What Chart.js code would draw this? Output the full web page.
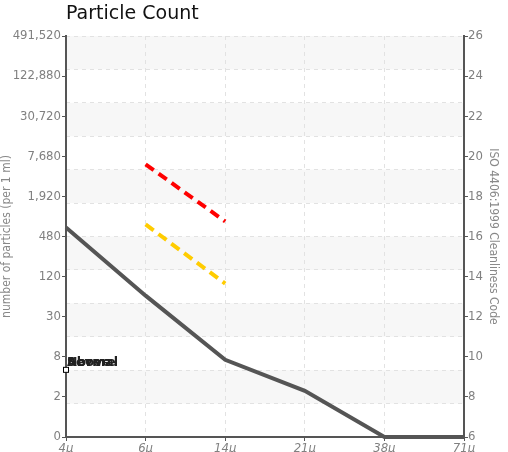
<!DOCTYPE html>
<html><head><meta charset="utf-8">
<script src="https://cdn.jsdelivr.net/npm/chart.js@4"></script>
<style>html,body{margin:0;padding:0;background:#fff}#wrap{width:508px;height:452px}</style>
</head><body><div id="wrap"><canvas id="c" width="508" height="452"></canvas></div>
<script>
const categories = ['4μ', '6μ', '14μ', '21μ', '38μ', '71μ'];
const measuredCode = [16.45, 13.05, 9.85, 8.3, 6, 6];
const severeCode = [null, 19.6, 16.75, null, null, null];
const aboveCode = [null, 16.6, 13.65, null, null, null];
const isoTicks = [6, 8, 10, 12, 14, 16, 18, 20, 22, 24, 26];
const particleTickLabels = ['0', '2', '8', '30', '120', '480', '1,920', '7,680', '30,720', '122,880', '491,520'];
const markerLabels = ['Above', 'Severe', 'Normal'];
const markerCode = 9.35;

const tickFont = { family: '"DejaVu Sans Condensed", "Liberation Sans Narrow", sans-serif', size: 13 };
const axisGray = '#555';
const labelGray = '#808080';
const gridGray = '#e2e2e2';

const bandsPlugin = {
  id: 'bands',
  beforeDraw(chart) {
    const g = chart.scales.g;
    const { left, right } = chart.chartArea;
    const ctx = chart.ctx;
    ctx.save();
    ctx.fillStyle = '#f7f7f7';
    for (let v = 12; v > 0; v -= 2) {
      const y1 = g.getPixelForValue(v), y2 = g.getPixelForValue(v - 1);
      ctx.fillRect(left, y1, right - left, y2 - y1);
    }
    ctx.restore();
  }
};

const markerPlugin = {
  id: 'marker',
  afterDatasetsDraw(chart) {
    const ctx = chart.ctx;
    const x = chart.scales.x.getPixelForValue(0);
    const y = chart.scales.y.getPixelForValue(markerCode);
    ctx.save();
    ctx.font = 'bold 12.5px "DejaVu Sans", sans-serif';
    ctx.fillStyle = '#222';
    ctx.textBaseline = 'alphabetic';
    ctx.textAlign = 'left';
    markerLabels.forEach(t => ctx.fillText(t, x + 1, y - 4));
    ctx.fillStyle = '#fff';
    ctx.strokeStyle = '#000';
    ctx.lineWidth = 1;
    ctx.fillRect(x - 2.5, y - 2.5, 5, 5);
    ctx.strokeRect(x - 2.5, y - 2.5, 5, 5);
    ctx.restore();
  }
};

new Chart(document.getElementById('c'), {
  type: 'line',
  data: {
    labels: categories,
    datasets: [
      { label: 'Measured', data: measuredCode, borderColor: '#555', borderWidth: 4, pointRadius: 0, tension: 0, clip: false, yAxisID: 'y' },
      { label: 'Severe', data: severeCode, borderColor: '#ff0000', borderWidth: 4, borderDash: [10, 6], pointRadius: 0, spanGaps: false, yAxisID: 'y' },
      { label: 'Above', data: aboveCode, borderColor: '#ffcc00', borderWidth: 4, borderDash: [10, 6], pointRadius: 0, spanGaps: false, yAxisID: 'y' }
    ]
  },
  options: {
    responsive: false,
    animation: false,
    devicePixelRatio: 1,
    layout: { padding: { left: 0, right: 8, top: 0, bottom: 0 } },
    plugins: {
      legend: { display: false },
      tooltip: { enabled: false },
      title: {
        display: true, text: 'Particle Count', align: 'start', fullSize: false,
        color: '#111', font: { family: '"DejaVu Sans", sans-serif', size: 19, weight: 'normal' },
        padding: { top: 3, bottom: 10.2 }
      }
    },
    scales: {
      x: {
        type: 'category', offset: false,
        grid: { color: gridGray, tickColor: axisGray, tickLength: 4, offset: false },
        border: { color: axisGray, width: 2, dash: [4, 4] },
        ticks: { color: labelGray, font: Object.assign({}, tickFont, { style: 'italic' }), padding: 0, maxRotation: 0, autoSkip: false },
        afterFit(s) { s.height = 15; }
      },
      g: {
        type: 'linear', position: 'left', min: 0, max: 12,
        ticks: { display: false, stepSize: 1 },
        grid: { color: gridGray, drawTicks: false },
        border: { display: false, dash: [4, 4] },
        afterFit(s) { s.width = 0; }
      },
      y: {
        type: 'linear', position: 'left', min: 6, max: 26,
        ticks: {
          stepSize: 2, autoSkip: false, color: labelGray, font: tickFont, padding: 1,
          callback(value) { const i = isoTicks.indexOf(value); return i >= 0 ? particleTickLabels[i] : ''; }
        },
        grid: { drawOnChartArea: false, tickLength: 4, tickColor: axisGray },
        border: { color: axisGray, width: 2 },
        title: { display: true, text: 'number of particles (per 1 ml)', color: '#888', font: { family: '"DejaVu Sans Condensed", "Liberation Sans Narrow", sans-serif', size: 12 }, padding: 0 },
        afterFit(s) { s.width = 66; }
      },
      y2: {
        type: 'linear', position: 'right', min: 6, max: 26,
        ticks: { stepSize: 2, autoSkip: false, color: labelGray, font: tickFont, padding: 0 },
        grid: { drawOnChartArea: false, tickLength: 4, tickColor: axisGray },
        border: { color: axisGray, width: 2 },
        title: { display: true, text: 'ISO 4406:1999 Cleanliness Code', color: '#888', font: { family: '"DejaVu Sans Condensed", "Liberation Sans Narrow", sans-serif', size: 12 }, padding: 0 },
        afterFit(s) { s.width = 36; }
      }
    }
  },
  plugins: [bandsPlugin, markerPlugin]
});
</script>
</body></html>
